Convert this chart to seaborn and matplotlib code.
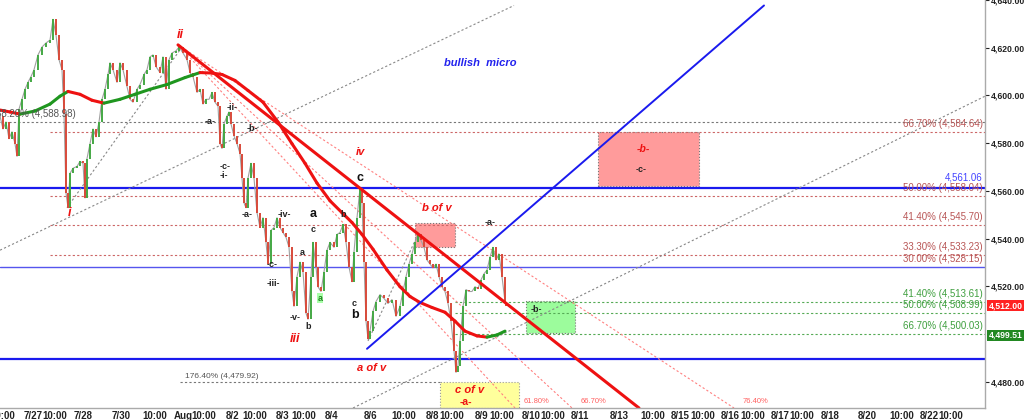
import numpy as np
import pandas as pd
import matplotlib
matplotlib.use('Agg')
import matplotlib.pyplot as plt
import matplotlib.transforms as mtransforms
from matplotlib.patches import Rectangle
from matplotlib.ticker import FuncFormatter
import seaborn as sns

sns.set_style('white')
plt.rcParams['font.family'] = ['Liberation Sans', 'DejaVu Sans']

#%% data (x = bar index, y = price)

bars = [0.0, 0.6, 1.2, 1.8, 2.4, 3.0, 3.4, 3.8, 4.4, 5.0, 5.6, 6.2, 6.8, 7.6, 8.4, 9.2, 10.0, 10.6,
        11.2, 11.8, 12.4, 12.8, 13.2, 13.6, 14.0, 14.6, 15.4, 16.0, 16.6, 17.0, 17.4, 18.0, 18.6,
        19.2, 19.8, 20.4, 21.0, 21.6, 22.0, 22.6, 23.4, 24.0, 24.6, 25.4, 26.0, 26.6, 27.4, 28.0,
        28.8, 29.4, 30.0, 30.6, 31.2, 32.0, 32.6, 33.2, 33.8, 34.4, 35.2, 35.8, 36.6, 37.4, 38.0,
        38.6, 39.4, 40.0, 40.6, 41.2, 41.8, 42.4, 43.0, 43.6, 44.0, 44.4, 44.8, 45.4, 45.8, 46.2,
        46.8, 47.4, 48.0, 48.4, 48.8, 49.2, 49.6, 50.2, 50.8, 51.4, 52.0, 52.6, 53.2, 53.6, 54.2,
        54.8, 55.4, 56.0, 56.6, 57.2, 57.8, 58.4, 58.8, 59.4, 60.0, 60.6, 61.2, 61.6, 62.2, 62.6,
        63.2, 63.6, 64.2, 64.8, 65.4, 66.0, 66.8, 67.4, 68.0, 68.6, 69.2, 69.8, 70.4, 70.8, 71.4,
        72.0, 72.4, 72.8, 73.2, 73.6, 74.0, 74.6, 75.2, 76.0, 76.8, 77.6, 78.4, 79.2, 80.0, 80.6,
        81.2, 81.8, 82.4, 83.0, 83.6, 84.2, 84.8, 85.4, 86.0, 86.6, 87.2, 87.8, 88.4, 89.0, 89.6,
        90.2, 90.8, 91.2, 91.6, 92.0, 92.6, 93.2, 93.8, 94.4, 95.0, 95.6, 96.2, 96.8, 97.4, 98.0,
        98.6, 99.2, 99.8, 100.4, 101.0, 101.2]
close = [4591.4, 4586.0, 4588.9, 4581.9, 4584.8, 4579.8, 4574.5, 4594.3, 4598.4, 4602.6, 4605.5,
         4607.9, 4610.8, 4617.0, 4620.3, 4622.0, 4623.2, 4631.9, 4625.3, 4615.0, 4610.8, 4592.2,
         4559.2, 4553.0, 4567.4, 4569.5, 4570.3, 4572.4, 4571.6, 4557.1, 4573.6, 4579.8, 4586.0,
         4582.7, 4588.9, 4598.4, 4602.6, 4608.8, 4613.7, 4610.8, 4605.5, 4613.7, 4610.8, 4603.8,
         4598.4, 4597.2, 4602.6, 4604.6, 4608.8, 4610.8, 4616.2, 4617.0, 4612.1, 4609.6, 4616.2,
         4602.6, 4615.0, 4617.8, 4618.7, 4620.3, 4617.8, 4615.0, 4609.6, 4607.9, 4601.3, 4602.6,
         4596.4, 4598.4, 4598.4, 4601.3, 4597.2, 4595.5, 4579.8, 4577.8, 4588.1, 4591.4, 4593.1,
         4588.1, 4583.1, 4579.8, 4575.7, 4565.4, 4555.0, 4553.0, 4565.4, 4571.6, 4565.4, 4550.9,
         4544.7, 4548.8, 4538.5, 4529.4, 4543.5, 4544.7, 4548.8, 4544.7, 4542.6, 4540.6, 4536.4,
         4517.9, 4511.7, 4524.1, 4530.2, 4526.1, 4508.8, 4506.3, 4524.1, 4538.5, 4528.2, 4519.9,
         4517.9, 4526.1, 4535.2, 4538.5, 4536.4, 4541.8, 4542.6, 4546.0, 4538.5, 4528.2, 4522.0,
         4534.4, 4548.8, 4561.2, 4555.0, 4530.2, 4505.5, 4498.0, 4501.3, 4509.6, 4513.7, 4516.6,
         4515.0, 4512.9, 4514.5, 4507.5, 4511.7, 4517.9, 4524.1, 4529.4, 4533.6, 4538.5, 4541.8,
         4539.3, 4536.4, 4531.1, 4529.4, 4527.8, 4529.4, 4524.1, 4519.9, 4517.9, 4512.9, 4505.5,
         4493.1, 4484.0, 4486.9, 4497.2, 4511.7, 4518.7, 4517.9, 4517.9, 4519.9, 4519.1, 4522.8,
         4525.3, 4526.9, 4532.3, 4536.4, 4531.1, 4533.6, 4524.1, 4513.7, 4512.0]

ma_bars = [0, 2, 4, 7, 10, 12, 13.6, 16, 18.4, 20.8, 24, 27, 30, 33.4, 37, 40, 42.4, 44.4, 47,
           49.6, 52.6, 55.6, 58.4, 61, 63.4, 66, 68.4, 70.4, 72.4, 74.6, 77.4, 80, 82, 84, 86.4,
           89, 91, 93, 95.4, 97.4, 99.4, 101]
ma_vals = [4593.9, 4593.1, 4592.2, 4593.5, 4596.4, 4599.7, 4601.7, 4600.5, 4598.0, 4596.8,
           4598.4, 4600.5, 4602.6, 4604.6, 4607.5, 4609.6, 4609.4, 4608.8, 4606.3, 4602.1,
           4597.2, 4588.9, 4579.8, 4571.6, 4563.3, 4555.9, 4550.9, 4546.8, 4541.8, 4535.6,
           4526.9, 4519.9, 4515.8, 4513.3, 4511.2, 4509.2, 4505.5, 4501.3, 4499.3, 4498.8,
           4499.7, 4501.3]

last_price = 4512.00
ma_last = 4499.51

xtick_pos = [0.6, 6.6, 11, 16.6, 24.2, 31, 36.6, 40.8, 46.6, 51, 56.6, 60.8, 66.4, 74.2, 80.8,
             86.4, 90.4, 96.4, 100.4, 106.2, 110.6, 116, 123.8, 130.6, 136, 140.6, 146, 150.6,
             156, 160.4, 166, 173.4, 180.4, 185.8, 190.2]
xtick_labels = ['10:00', '7/27', '10:00', '7/28', '7/30', '10:00', 'Aug', '10:00', '8/2', '10:00',
                '8/3', '10:00', '8/4', '8/6', '10:00', '8/8', '10:00', '8/9', '10:00', '8/10',
                '10:00', '8/11', '8/13', '10:00', '8/15', '10:00', '8/16', '10:00', '8/17',
                '10:00', '8/18', '8/20', '10:00', '8/22', '10:00']
# 4,500 sits under the price tags, so it is not shown
ytick_vals = [4480, 4520, 4540, 4560, 4580, 4600, 4620, 4640]

# fibonacci levels
red_pct = ['66.70%', '50.00%', '41.40%', '33.30%']
red_lvl = [4584.64, 4558.04, 4545.70, 4533.23]
green_pct = ['41.40%', '50.00%', '66.70%']
green_lvl = [4513.61, 4508.99, 4500.03]
blue_lvl = [4561.06, 4489.8]
blue_thin_lvl = 4528.15
gray_lvl = 4588.98
ext_lvl = 4479.92

# trend lines, start / end (bar, price)
gray_lines = [((0, 4535.2), (102.8, 4637.7)),
              ((70.6, 4469.1), (197, 4599.7)),
              ((13.4, 4553.0), (36, 4619.1)),
              ((73.6, 4497.2), (83.6, 4541.8))]
red_trend = ((35.6, 4621.2), (127.8, 4469.1))
blue_trend = ((73.4, 4493.9), (152.8, 4637.7))
fan_end = [103, 114.4, 146.8]
fan_pct = ['61.80%', '66.70%', '76.40%']

#%% figure

fig = plt.figure(figsize=(10.24, 4.2), dpi=100)
ax = fig.add_axes([0, 12 / 420, 985 / 1024, 408 / 420])
ax.set_xlim(0, 197)
ax.set_ylim(4469.1, 4637.7)

dred = '#b85555'
dgreen = '#3f9f3f'

# horizontal levels
ax.axhline(gray_lvl, color='#777777', ls=(0, (2, 2)), lw=0.8)
for lvl in red_lvl:
    ax.hlines(lvl, 10, 197, color='#cc6666', ls=(0, (2, 2)), lw=0.8)
for lvl in green_lvl:
    ax.hlines(lvl, 91, 197, color='#55aa55', ls=(0, (2, 2)), lw=0.8)
ax.hlines(ext_lvl, 36, 88, color='#777777', ls=(0, (2, 2)), lw=0.8)
for lvl in blue_lvl:
    ax.axhline(lvl, color='#1a1aee', lw=1.6)
ax.axhline(blue_thin_lvl, color='#5555ee', lw=1.0)

# boxes
ax.add_patch(Rectangle((83, 4536.4), 8, 10.4, fc='#ff9b9b', ec='#777777', ls=':', lw=0.8))
ax.add_patch(Rectangle((119.6, 4562.1), 20.2, 22.7, fc='#ff9b9b', ec='#777777', ls=':', lw=0.8))
ax.add_patch(Rectangle((105.2, 4500.5), 9.8, 13.6, fc='#9cfc9c', ec='#777777', ls=':', lw=0.8))
ax.add_patch(Rectangle((88, 4469.1), 15.8, 10.7, fc='#ffff9c', ec='#999999', ls=':', lw=0.8))

# dotted trend lines
for (x0, y0), (x1, y1) in gray_lines:
    ax.plot([x0, x1], [y0, y1], color='#888888', ls=(0, (2, 2)), lw=0.8)
for xe in fan_end:
    ax.plot([red_trend[0][0], xe], [red_trend[0][1], 4469.1], color='#ff8080', ls=(0, (2, 2)), lw=0.8)

# price bars
df = pd.DataFrame({'bar': bars, 'close': close})
sns.lineplot(data=df, x='bar', y='close', ax=ax, color='#a0a0a0', lw=0.8, estimator=None, sort=False)
prev = df['close'].shift(1).bfill()
up = df['close'] >= prev
ax.vlines(df['bar'][up], prev[up], df['close'][up], color='#44a844', lw=1.4)
ax.vlines(df['bar'][~up], df['close'][~up], prev[~up], color='#d84a3a', lw=1.4)

# moving average, green when rising, red when falling
for i in range(len(ma_bars) - 1):
    c = '#1f961f' if ma_vals[i + 1] > ma_vals[i] else '#ee1111'
    ax.plot(ma_bars[i:i + 2], ma_vals[i:i + 2], color=c, lw=2.2, solid_capstyle='round')

# main trend lines
ax.plot([red_trend[0][0], red_trend[1][0]], [red_trend[0][1], red_trend[1][1]], color='#ee1111', lw=2.2)
ax.plot([blue_trend[0][0], blue_trend[1][0]], [blue_trend[0][1], blue_trend[1][1]], color='#1a1aee', lw=1.4)

# fib labels
for p, lvl in zip(red_pct, red_lvl):
    ax.text(196.6, lvl + 1.2, f'{p} ({lvl:,.2f})', color=dred, fontsize=7, ha='right', va='bottom')
ax.text(196.6, blue_thin_lvl + 1.2, f'30.00% ({blue_thin_lvl:,.2f})', color=dred, fontsize=7,
        ha='right', va='bottom')
for p, lvl in zip(green_pct, green_lvl):
    ax.text(196.6, lvl + 1.2, f'{p} ({lvl:,.2f})', color=dgreen, fontsize=7, ha='right', va='bottom')
ax.text(196.6, blue_lvl[0] + 2.4, f'{blue_lvl[0]:,.2f}', color='#4444ff', fontsize=7, ha='right', va='bottom')
ax.text(-0.9, gray_lvl + 1.2, f'38.20% ({gray_lvl:,.2f})', color='#555555', fontsize=7, ha='left', va='bottom')
ax.text(37, ext_lvl + 0.8, f'176.40% ({ext_lvl:,.2f})', color='#555555', fontsize=6, ha='left', va='bottom')
for xe, p in zip(fan_end, fan_pct):
    ax.text(xe + 1.8, 4470.3, p, color='#ff6060', fontsize=5.5, ha='left', va='bottom')

# wave labels
red_it = dict(color='#ee1111', style='italic', fontweight='bold', ha='center', va='center')
ax.text(36, 4625.3, 'ii', fontsize=9, **red_it)
ax.text(14, 4550.9, 'i', fontsize=9, **red_it)
ax.text(59, 4498.0, 'iii', fontsize=9, **red_it)
ax.text(72, 4576.5, 'iv', fontsize=8, **red_it)
ax.text(87.4, 4553.0, 'b of v', fontsize=8, **red_it)
ax.text(74.4, 4486.0, 'a of v', fontsize=8, **red_it)
ax.text(94, 4476.5, 'c of v', fontsize=8, **red_it)
ax.text(93.2, 4471.6, '-a-', fontsize=7.5, color='#ee1111', fontweight='bold', ha='center', va='center')
ax.text(128.6, 4577.4, '-b-', fontsize=7.5, **red_it)
ax.text(96, 4613.7, 'bullish  micro', fontsize=8, color='#2222ee', style='italic', fontweight='bold',
        ha='center', va='center')

small = [('-ii-', 46.4, 4595.1), ('-a-', 42, 4589.3), ('-b-', 50.4, 4586.0), ('-c-', 45, 4570.3),
         ('-i-', 44.8, 4566.6), ('-a-', 49.4, 4550.1), ('-iv-', 56.8, 4550.1), ('c', 62.6, 4543.9),
         ('b', 68.6, 4550.1), ('a', 60.4, 4534.4), ('-c-', 54.4, 4529.0), ('-iii-', 54.6, 4521.2),
         ('-v-', 59, 4507.1), ('b', 61.6, 4503.4), ('c', 70.8, 4512.9), ('-a-', 98, 4546.8),
         ('-c-', 128.2, 4569.1), ('-b-', 107.2, 4510.4)]
for s, x, y in small:
    ax.text(x, y, s, fontsize=6.5, color='#222222', fontweight='bold', ha='center', va='center')
ax.text(64, 4515.0, 'a', fontsize=6.5, color='#228822', fontweight='bold', ha='center', va='center',
        bbox=dict(fc='#aaffaa', ec='none', pad=0.3))
for s, x, y in [('a', 62.6, 4550.5), ('b', 71, 4507.9), ('c', 72, 4565.4)]:
    ax.text(x, y, s, fontsize=9, color='#111111', fontweight='bold', ha='center', va='center')

# axes styling
ax.yaxis.tick_right()
ax.set_yticks(ytick_vals)
ax.yaxis.set_major_formatter(FuncFormatter(lambda v, p: f'{v:,.2f}'))
ax.set_xticks(xtick_pos)
ax.set_xticklabels(xtick_labels)
ax.tick_params(axis='y', labelsize=6.2, length=3, pad=1, colors='#222222')
ax.tick_params(axis='x', labelsize=7, length=0, pad=2, colors='#222222')
for lab in ax.get_xticklabels() + ax.get_yticklabels():
    lab.set_fontweight('bold')
ax.set_xlabel('')
ax.set_ylabel('')
for side in ['top', 'left']:
    ax.spines[side].set_visible(False)
for side in ['right', 'bottom']:
    ax.spines[side].set_color('#aaaaaa')
    ax.spines[side].set_linewidth(1.0)

# last price tags on the axis
trans = mtransforms.blended_transform_factory(ax.transAxes, ax.transData)
ax.text(1.0035, last_price, f'{last_price:,.2f}', transform=trans, fontsize=6.2, color='white',
        fontweight='bold', ha='left', va='center', bbox=dict(fc='#ff2222', ec='none', pad=1.0))
ax.text(1.0035, ma_last, f'{ma_last:,.2f}', transform=trans, fontsize=6.2, color='white',
        fontweight='bold', ha='left', va='center', bbox=dict(fc='#228822', ec='none', pad=1.0))

fig.savefig('out.png', dpi=100)
